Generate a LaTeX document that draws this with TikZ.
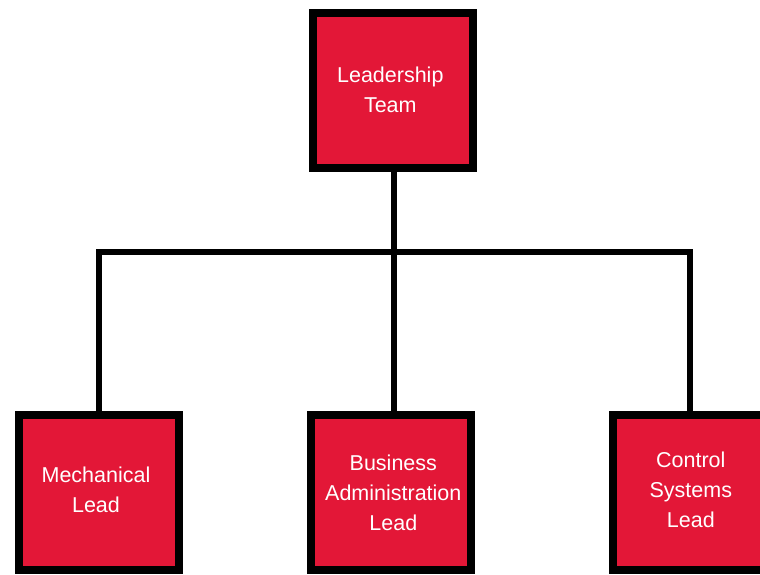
\documentclass[tikz,border=0pt]{standalone}
\usepackage{fontspec}
\setmainfont{Liberation Sans}
\definecolor{boxred}{RGB}{227,23,55}
\begin{document}
\begin{tikzpicture}[x=1pt,y=-1pt,
  orgbox/.style={draw=black,fill=boxred,line width=8pt,minimum width=160pt,minimum height=155pt,inner sep=0pt},
  boxtext/.style={text=white,align=center,font=\fontsize{21.5}{30}\selectfont,inner sep=0pt},
  link/.style={draw=black,line width=6pt}]
\useasboundingbox (0,0) rectangle (760,574);
\clip (0,0) rectangle (760,574);
\node[orgbox] (top) at (393.3,90.3) {};
\node[orgbox] (mech) at (98.7,492.3) {};
\node[orgbox] (bus) at (390.5,492.3) {};
\node[orgbox] (ctrl) at (693,492.3) {};
\node[boxtext] (topT) at (390.3,90) {Leadership\\Team};
\node[boxtext] (mechT) at (96,490) {Mechanical\\Lead};
\node[boxtext] (busT) at (393.3,493) {Business\\Administration\\Lead};
\node[boxtext] (ctrlT) at (690.8,490) {Control\\Systems\\Lead};
\coordinate (hub) at (393.5,251.5);
\coordinate (busL) at (98.7,251.5);
\coordinate (busM) at (393.7,251.5);
\coordinate (busR) at (689.7,251.5);
\draw[link] (top.south -| hub) -- (hub);
\draw[link,line cap=rect] (busL) -- (busR);
\draw[link] (busL) -- (busL |- mech.north);
\draw[link] (busM) -- (busM |- bus.north);
\draw[link] (busR) -- (busR |- ctrl.north);
\end{tikzpicture}
\end{document}
